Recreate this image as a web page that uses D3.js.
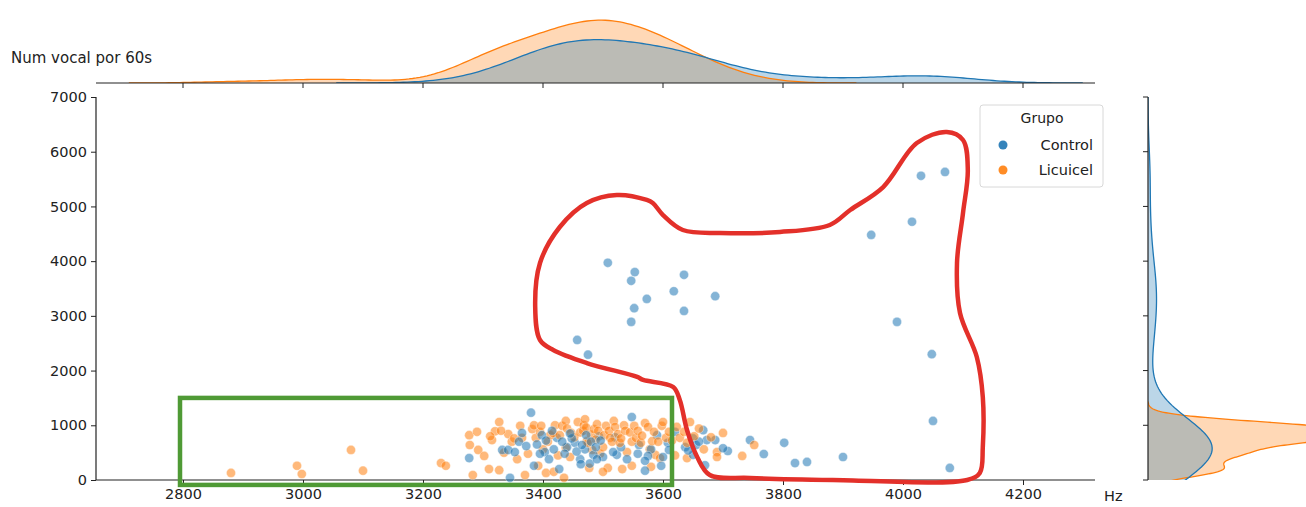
<!DOCTYPE html>
<html>
<head>
<meta charset="utf-8">
<script src="https://cdn.jsdelivr.net/npm/d3@7"></script>
<style>
  body { margin: 0; background: #fff; }
  svg { font-family: "DejaVu Sans", sans-serif; }
</style>
</head>
<body>
<svg id="chart" width="1306" height="507"></svg>
<script>
// groups (hue)
const groups = ["Control", "Licuicel"];
const groupColors = ["#1f77b4", "#ff7f0e"];

// Control: [Hz, Num vocal por 60s]
const controlPoints = [
    [3508, 3970], [3553, 3800], [3547, 3640], [3635, 3750], [3618, 3450], [3573, 3310],
    [3687, 3360], [3552, 3140], [3635, 3090], [3547, 2890], [3457, 2560], [3475, 2290],
    [4030, 5560], [4070, 5630], [4015, 4720], [3947, 4480], [3990, 2890], [4048, 2300],
    [4050, 1080], [4078, 220], [3900, 420], [3840, 330], [3820, 310], [3802, 680],
    [3768, 475], [3745, 730], [3708, 530], [3687, 730], [3673, 730], [3667, 910],
    [3670, 270], [3637, 600], [3608, 680],
    [3277, 400], [3332, 550], [3342, 550], [3353, 510], [3345, 40], [3380, 1230],
    [3385, 260], [3403, 510], [3423, 770], [3427, 200], [3453, 680], [3462, 380],
    [3463, 290], [3493, 800], [3523, 460], [3548, 1150], [3558, 480], [3570, 170],
    [3597, 260], [3610, 550], [3517, 510], [3540, 380], [3530, 600], [3580, 560],
    [3590, 820], [3500, 420], [3470, 560], [3440, 600], [3410, 380], [3620, 880],
    [3650, 760], [3655, 640], [3700, 580], [3478, 300], [3560, 640], [3650, 460],
    [3415, 900], [3365, 860], [3520, 780], [3600, 420],
    [3360, 700], [3372, 620], [3390, 650], [3398, 820], [3405, 720], [3418, 560],
    [3432, 700], [3436, 480], [3448, 760], [3456, 520], [3465, 640], [3472, 820],
    [3480, 700], [3484, 460], [3488, 600], [3496, 720], [3575, 440], [3642, 540],
    [3660, 700], [3395, 480], [3445, 850], [3490, 380], [3570, 350]
];

// Licuicel: [Hz, Num vocal por 60s]
const licuicelPoints = [
    [2880, 130], [2990, 260], [2998, 110], [3080, 550], [3100, 170], [3230, 310], [3238, 260],
    [3283, 90], [3310, 200], [3327, 180], [3370, 90], [3405, 130], [3435, 40], [3477, 220],
    [3508, 220], [3532, 200], [3418, 150], [3500, 150], [3548, 260], [3580, 240], [3392, 260],
    [3278, 640], [3292, 550], [3302, 440], [3335, 500], [3357, 380], [3375, 480], [3400, 560],
    [3425, 450], [3438, 590], [3445, 420], [3482, 550], [3495, 480], [3500, 600], [3540, 510],
    [3578, 560], [3587, 460], [3595, 400], [3620, 450], [3668, 560], [3690, 510], [3690, 420],
    [3732, 440], [3752, 640], [3640, 400],
    [3277, 820], [3315, 730], [3320, 890], [3327, 1060], [3342, 840], [3348, 700], [3352, 760],
    [3362, 990], [3365, 770], [3382, 930], [3385, 1000], [3388, 770], [3395, 880], [3397, 990],
    [3408, 700], [3412, 820], [3417, 860], [3420, 1000], [3428, 820], [3432, 990], [3438, 1080],
    [3440, 940], [3447, 860], [3452, 780], [3458, 1060], [3462, 870], [3467, 900], [3468, 1000],
    [3470, 1110], [3472, 960], [3473, 710], [3475, 680], [3480, 830], [3485, 930], [3488, 740],
    [3490, 1020], [3492, 900], [3502, 820], [3505, 990], [3510, 900], [3512, 770], [3515, 700],
    [3518, 1080], [3520, 970], [3525, 840], [3528, 680], [3530, 760], [3535, 1000], [3537, 900],
    [3545, 870], [3548, 700], [3552, 990], [3555, 770], [3558, 900], [3563, 680], [3565, 810],
    [3570, 1040], [3575, 970], [3582, 710], [3585, 880], [3592, 700], [3598, 990], [3600, 1060],
    [3605, 770], [3610, 880], [3615, 720], [3623, 970], [3628, 770], [3635, 880], [3640, 680],
    [3645, 1060], [3652, 800], [3660, 940], [3700, 860], [3312, 800], [3330, 900], [3680, 780],
    [3290, 880]
];

const xTicks = [2800, 3000, 3200, 3400, 3600, 3800, 4000, 4200];
const yTicks = [0, 1000, 2000, 3000, 4000, 5000, 6000, 7000];

// hand drawn annotations, in data units
const redOutline = [
    [3417, 2376], [3395, 2559], [3387, 3162], [3395, 3966], [3428, 4624], [3473, 5063],
    [3523, 5209], [3573, 5118], [3583, 5063], [3600, 4843], [3633, 4569], [3695, 4514],
    [3795, 4533], [3878, 4661], [3912, 4935], [3967, 5355], [4023, 6159], [4073, 6360],
    [4100, 6214], [4108, 5666], [4100, 4880], [4090, 3966], [4095, 3052], [4123, 2248],
    [4133, 1517], [4133, 603], [4128, 128], [4107, 0], [3883, 0], [3745, 37], [3678, 91],
    [3657, 420], [3640, 914], [3628, 1462], [3617, 1700], [3567, 1828], [3557, 1883], [3473, 2138]
];
const greenBox = [2795, 3615, -90, 1500];

const svg = d3.select("#chart");

var x = d3.scaleLinear().domain([2655, 4320]).range([96, 1095]);
var y = d3.scaleLinear().domain([0, 7000]).range([480, 97]);

// gaussian kde, scott bandwidth, common norm
const total = controlPoints.length + licuicelPoints.length;
function kde(values) {
    const n = values.length;
    const sd = d3.deviation(values);
    const bw = sd * Math.pow(n, -0.2);
    const a = d3.min(values) - 3 * bw, b = d3.max(values) + 3 * bw;
    const out = [];
    for (let i = 0; i <= 200; i++) {
        const g = a + (b - a) * i / 200;
        let s = 0;
        values.forEach(v => { const z = (g - v) / bw; s += Math.exp(-0.5 * z * z); });
        out.push([g, s / (Math.sqrt(2 * Math.PI) * bw) / total]);
    }
    return out;
}

const sets = [controlPoints, licuicelPoints];
const kdeX = sets.map(s => kde(s.map(d => d[0])));
const kdeY = sets.map(s => kde(s.map(d => d[1])));

svg.append("defs").append("clipPath").attr("id", "clipTop")
    .append("rect").attr("x", 96).attr("y", 0).attr("width", 999).attr("height", 83);
svg.select("defs").append("clipPath").attr("id", "clipRight")
    .append("rect").attr("x", 1148).attr("y", 97).attr("width", 160).attr("height", 383);

// top marginal
const maxX = d3.max(kdeX.flat(), d => d[1]);
var dTop = d3.scaleLinear().domain([0, maxX * 1.05]).range([83, 17]);
const topG = svg.append("g").attr("clip-path", "url(#clipTop)");
const areaTop = d3.area().x(d => x(d[0])).y0(83).y1(d => dTop(d[1]));
const lineTop = d3.line().x(d => x(d[0])).y(d => dTop(d[1]));
[1, 0].forEach(i => {
    topG.append("path").attr("d", areaTop(kdeX[i]))
        .attr("fill", groupColors[i]).attr("fill-opacity", 0.3);
});
[1, 0].forEach(i => {
    topG.append("path").attr("d", lineTop(kdeX[i]))
        .attr("fill", "none").attr("stroke", groupColors[i]).attr("stroke-width", 1.3);
});
svg.append("line").attr("x1", 96).attr("x2", 1095).attr("y1", 83).attr("y2", 83)
    .attr("stroke", "#222").attr("stroke-width", 1.2);
xTicks.forEach(t => {
    svg.append("line").attr("x1", x(t)).attr("x2", x(t)).attr("y1", 83).attr("y2", 88)
        .attr("stroke", "#222");
});

// right marginal
const maxY = d3.max(kdeY.flat(), d => d[1]);
var dRight = d3.scaleLinear().domain([0, maxY * 1.05]).range([1148, 1370]);
const rightG = svg.append("g").attr("clip-path", "url(#clipRight)");
const areaRight = d3.area().y(d => y(d[0])).x0(1148).x1(d => dRight(d[1]));
const lineRight = d3.line().y(d => y(d[0])).x(d => dRight(d[1]));
[1, 0].forEach(i => {
    rightG.append("path").attr("d", areaRight(kdeY[i]))
        .attr("fill", groupColors[i]).attr("fill-opacity", 0.3);
});
[1, 0].forEach(i => {
    rightG.append("path").attr("d", lineRight(kdeY[i]))
        .attr("fill", "none").attr("stroke", groupColors[i]).attr("stroke-width", 1.3);
});
svg.append("line").attr("x1", 1148).attr("x2", 1148).attr("y1", 97).attr("y2", 480)
    .attr("stroke", "#222").attr("stroke-width", 1.2);
yTicks.forEach(t => {
    svg.append("line").attr("x1", 1143).attr("x2", 1148).attr("y1", y(t)).attr("y2", y(t))
        .attr("stroke", "#222");
});

// main axes
const xAxis = svg.append("g").attr("transform", "translate(0,480)")
    .call(d3.axisBottom(x).tickValues(xTicks).tickFormat(d3.format("d")).tickSize(5).tickPadding(4));
const yAxis = svg.append("g").attr("transform", "translate(96,0)")
    .call(d3.axisLeft(y).tickValues(yTicks).tickFormat(d3.format("d")).tickSize(5).tickPadding(4));
[xAxis, yAxis].forEach(ax => {
    ax.select(".domain").attr("stroke", "#222").attr("stroke-width", 1.2);
    ax.selectAll(".tick line").attr("stroke", "#222");
    ax.selectAll(".tick text").attr("fill", "#222").style("font-size", "14.5px")
        .style("font-family", "DejaVu Sans, sans-serif");
});
xAxis.select(".domain").attr("d", "M96,0H1095");
yAxis.select(".domain").attr("d", "M0,97V480");

svg.append("text").attr("x", 11).attr("y", 63).text("Num vocal por 60s")
    .attr("fill", "#222").style("font-size", "15px");
svg.append("text").attr("x", 1104).attr("y", 501).text("Hz")
    .attr("fill", "#222").style("font-size", "14.5px");

// scatter, interleaved like one call
const allPts = [];
const m = Math.max(controlPoints.length, licuicelPoints.length);
for (let i = 0; i < m; i++) {
    if (i < licuicelPoints.length) allPts.push({ p: licuicelPoints[i], g: 1 });
    if (i < controlPoints.length) allPts.push({ p: controlPoints[i], g: 0 });
}
svg.append("g").selectAll("circle").data(allPts).join("circle")
    .attr("cx", d => x(d.p[0]))
    .attr("cy", d => y(d.p[1]))
    .attr("r", 4.6)
    .attr("fill", d => groupColors[d.g])
    .attr("fill-opacity", 0.55)
    .attr("stroke", "#fff")
    .attr("stroke-opacity", 0.5)
    .attr("stroke-width", 0.7);

// annotations
svg.append("rect")
    .attr("x", x(greenBox[0])).attr("y", y(greenBox[3]))
    .attr("width", x(greenBox[1]) - x(greenBox[0]))
    .attr("height", y(greenBox[2]) - y(greenBox[3]))
    .attr("fill", "none").attr("stroke", "#4f9a35").attr("stroke-width", 4.5);

svg.append("path")
    .attr("d", d3.line().x(d => x(d[0])).y(d => y(d[1])).curve(d3.curveCatmullRomClosed.alpha(0.5))(redOutline))
    .attr("fill", "none").attr("stroke", "#e3302a").attr("stroke-width", 4.5)
    .attr("stroke-linejoin", "round");

// legend
const leg = svg.append("g").attr("transform", "translate(980,105)");
leg.append("rect").attr("width", 123).attr("height", 82).attr("rx", 3)
    .attr("fill", "#fff").attr("fill-opacity", 0.8).attr("stroke", "#d8d8d8");
leg.append("text").attr("x", 62).attr("y", 18).attr("text-anchor", "middle")
    .text("Grupo").attr("fill", "#222").style("font-size", "14px");
groups.forEach((g, i) => {
    leg.append("circle").attr("cx", 23).attr("cy", 40 + i * 25).attr("r", 4.5)
        .attr("fill", groupColors[i]).attr("fill-opacity", 0.9);
    leg.append("text").attr("x", 113).attr("y", 45 + i * 25).attr("text-anchor", "end")
        .text(g).attr("fill", "#222").style("font-size", "14.5px");
});
</script>
</body>
</html>
